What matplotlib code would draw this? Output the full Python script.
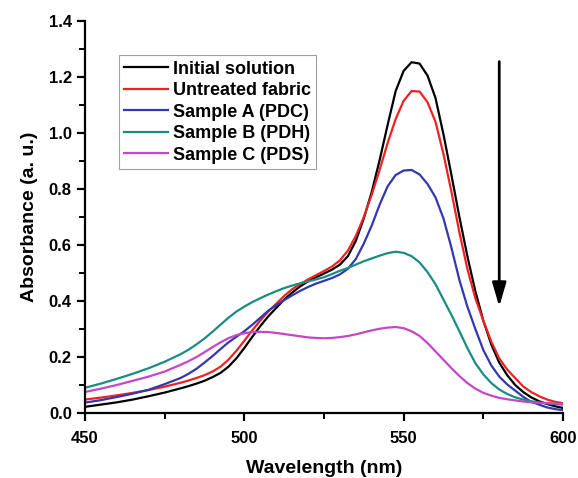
import matplotlib
matplotlib.use('Agg')
import matplotlib.pyplot as plt
from matplotlib.ticker import MultipleLocator

plt.rcParams.update({
    'font.family': 'Liberation Sans',
    'font.weight': 'bold',
    'font.size': 12,
})

# wavelength grid (nm)
wavelength = [450, 455, 460, 465, 470, 475, 480,
              482.5, 485, 487.5, 490, 492.5, 495, 497.5, 500,
              502.5, 505, 507.5, 510, 512.5, 515, 517.5, 520,
              522.5, 525, 527.5, 530, 532.5, 535, 537.5, 540,
              542.5, 545, 547.5, 550, 552.5, 555, 557.5, 560,
              562.5, 565, 567.5, 570, 572.5, 575, 577.5, 580,
              582.5, 585, 587.5, 590, 592.5, 595, 597.5, 600]

initial = [.022, .030, .038, .048, .060, .073, .088,
           .096, .105, .115, .128, .143, .165, .195, .232,
           .272, .310, .345, .375, .405, .430, .452, .470,
           .485, .498, .512, .530, .560, .615, .695, .790,
           .905, 1.030, 1.150, 1.222, 1.253, 1.248, 1.205, 1.125,
           .995, .850, .700, .560, .435, .330, .245, .180,
           .135, .100, .075, .056, .042, .032, .024, .018]

untreated = [.048, .055, .063, .072, .082, .094, .108,
             .116, .125, .135, .148, .165, .190, .222, .258,
             .295, .330, .362, .390, .418, .442, .460, .477,
             .492, .507, .523, .545, .580, .632, .700, .780,
             .870, .965, 1.050, 1.115, 1.150, 1.148, 1.110, 1.040,
             .925, .790, .645, .515, .410, .330, .255, .195,
             .155, .125, .095, .075, .060, .048, .040, .035]

sample_a = [.037, .046, .057, .069, .083, .103, .125,
            .140, .158, .180, .203, .228, .252, .272, .292,
            .315, .340, .365, .385, .403, .420, .436, .450,
            .462, .472, .482, .495, .515, .550, .605, .670,
            .745, .810, .850, .866, .868, .852, .818, .770,
            .695, .590, .475, .380, .300, .225, .170, .130,
            .102, .080, .058, .040, .030, .020, .014, .010]

sample_b = [.090, .105, .122, .140, .160, .183, .210,
            .226, .245, .266, .290, .315, .340, .362, .380,
            .396, .410, .423, .435, .446, .455, .463, .470,
            .477, .485, .496, .508, .518, .530, .542, .552,
            .562, .571, .576, .572, .560, .538, .503, .460,
            .405, .350, .292, .232, .178, .138, .107, .084,
            .068, .056, .048, .042, .038, .035, .032, .030]

sample_c = [.075, .087, .100, .115, .130, .148, .172,
            .185, .200, .217, .235, .252, .267, .278, .285,
            .289, .290, .289, .286, .282, .278, .274, .270,
            .268, .267, .268, .271, .275, .281, .288, .295,
            .301, .305, .307, .303, .292, .275, .250, .220,
            .190, .160, .132, .107, .087, .072, .062, .054,
            .049, .045, .041, .038, .036, .035, .034, .033]

series = [
    ('Initial solution', initial, 'black'),
    ('Untreated fabric', untreated, '#ee2222'),
    ('Sample A (PDC)', sample_a, '#3338b0'),
    ('Sample B (PDH)', sample_b, '#1a8c80'),
    ('Sample C (PDS)', sample_c, '#c447c8'),
]

fig = plt.figure(figsize=(5.78, 4.78), dpi=100)
ax = fig.add_axes([0.147, 0.136, 0.827, 0.820])

for label, y, c in series:
    ax.plot(wavelength, y, color=c, linewidth=1.6, label=label)

# arrow showing decrease
ax.annotate('', xy=(580, 0.37), xytext=(580, 1.265),
            arrowprops=dict(arrowstyle='-|>,head_width=0.35,head_length=1.2',
                            color='black', linewidth=2))

ax.set_xlim(450, 600)
ax.set_ylim(0, 1.4)
ax.set_xticks([450, 500, 550, 600])
ax.set_yticks([0.0, 0.2, 0.4, 0.6, 0.8, 1.0, 1.2, 1.4])
ax.xaxis.set_minor_locator(MultipleLocator(25))
ax.yaxis.set_minor_locator(MultipleLocator(0.1))
ax.yaxis.set_major_formatter(plt.FormatStrFormatter('%.1f'))

for s in ['top', 'right']:
    ax.spines[s].set_visible(False)
for s in ['left', 'bottom']:
    ax.spines[s].set_linewidth(1.6)
ax.tick_params(which='major', direction='out', length=6, width=1.6, labelsize=12)
ax.tick_params(axis='x', which='major', pad=7)
ax.tick_params(which='minor', direction='out', length=4, width=1.4)

ax.set_xlabel('Wavelength (nm)', fontsize=14, fontweight='bold', labelpad=10)
ax.set_ylabel('Absorbance (a. u.)', fontsize=14, fontweight='bold', labelpad=8)

leg = ax.legend(loc='upper left', bbox_to_anchor=(0.071, 0.913), fontsize=13,
                frameon=True, fancybox=False, edgecolor='#888888',
                handlelength=2.4, handletextpad=0.3, labelspacing=0.25,
                borderpad=0.3, borderaxespad=0)
leg.get_frame().set_linewidth(0.8)
for t in leg.get_texts():
    t.set_fontweight('bold')

fig.savefig('out.png', dpi=100)
